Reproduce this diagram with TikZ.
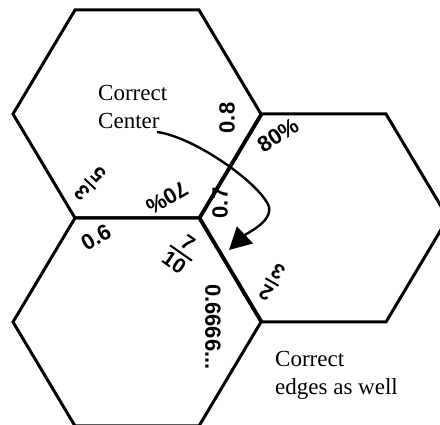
\documentclass[tikz,border=0pt]{standalone}
\usepackage{fontspec}
\setmainfont{Liberation Serif}
\setsansfont{Liberation Sans}
\usetikzlibrary{arrows.meta}

\begin{document}
\begin{tikzpicture}[x=1pt, y=1pt,
    hexedge/.style={line width=3pt, black},
    vlabel/.style={font=\fontsize{22}{22}\selectfont\sffamily\bfseries, inner sep=0pt},
    fraclabel/.style={font=\fontsize{21}{24}\selectfont\sffamily\bfseries, align=center, inner sep=0pt},
    fracbar/.style={line width=2pt, shorten <=-1.5pt, shorten >=-1.5pt},
    note/.style={font=\fontsize{23}{28}\selectfont, align=left, inner sep=0pt, anchor=north west}]
        \useasboundingbox (0,0) rectangle (440,425);
        \clip (0,0) rectangle (440,425);
        % the three cells
        \foreach \cx/\cy in {137/311, 324/207, 137/103}
          \draw[hexedge] (\cx-124,\cy) -- (\cx-62,\cy+104) -- (\cx+62,\cy+104)
               -- (\cx+124,\cy) -- (\cx+62,\cy-104) -- (\cx-62,\cy-104) -- cycle;
        % values at the corners
        \node[fraclabel, rotate=137] (fthreefifths) at (90,241) {3\\5};
        \node[vlabel, rotate=30]     (zerosix)      at (96,188) {0.6};
        \node[vlabel, rotate=210]    (seventypct)   at (167,227) {70\%};
        \node[fraclabel, rotate=-35] (fseventenths) at (181,172) {7\\10};
        \node[vlabel, rotate=90]     (zeroseven)    at (220,222) {0.7};
        \node[vlabel, rotate=90]     (zeroeight)    at (227,307) {0.8};
        \node[vlabel, rotate=33]     (eightypct)    at (278,290) {80\%};
        \node[fraclabel, rotate=150] (ftwothirds)   at (272,143) {2\\3};
        \node[vlabel, rotate=-90]    (zerosixes)    at (213,98) {0.6666...};
        \foreach \f in {fthreefifths, fseventenths, ftwothirds}
          \draw[fracbar] (\f.west) -- (\f.east);
        % notes
        \node[note] (center) at (98,340) {Correct\\Center};
        \node[note] (edges)  at (275,74) {Correct\\edges as well};
        \coordinate (tail) at (157,293);
        \coordinate (tip)  at (229,175);
        \draw[line width=2.4pt, -{Triangle[length=22pt,width=23pt]}]
             (tail) .. controls (195,288) and (262,240) .. (269,218)
                    .. controls (272,203) and (247,192) .. (tip);
      \end{tikzpicture}
\end{document}
